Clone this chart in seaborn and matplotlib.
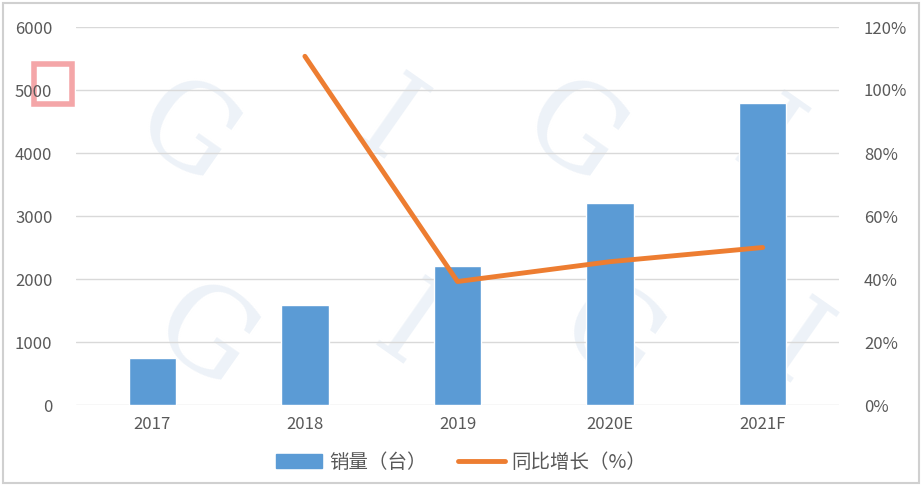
import matplotlib.pyplot as plt
import matplotlib.patches as mpatches
from matplotlib.lines import Line2D
import seaborn as sns
import numpy as np
import pandas as pd

# data
years = ['2017', '2018', '2019', '2020E', '2021F']
sales = [750, 1580, 2200, 3200, 4800]          # 销量（台）
growth_years = ['2018', '2019', '2020E', '2021F']
growth = [110.7, 39.2, 45.5, 50.0]             # 同比增长（%）
left_ticks = [0, 1000, 2000, 3000, 4000, 5000, 6000]
right_ticks = [0, 20, 40, 60, 80, 100, 120]

bar_color = '#5B9BD5'
line_color = '#ED7D31'
txt_color = '#595959'
grid_color = '#D9D9D9'

sns.set_style('white')
plt.rcParams['font.family'] = ['Noto Sans CJK SC', 'DejaVu Sans']

fig = plt.figure(figsize=(9.22, 4.86), dpi=100)
fig.patch.set_facecolor('white')

# faint watermark behind everything
wm_pos = [(0.20, 0.72), (0.42, 0.74), (0.62, 0.72), (0.83, 0.70),
          (0.22, 0.30), (0.44, 0.32), (0.66, 0.30), (0.86, 0.28)]
for i, (wx, wy) in enumerate(wm_pos):
    fig.text(wx, wy, 'GI'[i % 2], fontsize=85, family='DejaVu Serif',
             color='#EDF2F8', rotation=-35, ha='center', va='center', zorder=0)

# small logo top-left
fig.patches.append(mpatches.Rectangle((34 / 922, 1 - 104 / 486), 38 / 922, 40 / 486,
                                      transform=fig.transFigure, fill=False,
                                      edgecolor='#F4A6A8', linewidth=4, zorder=0.5))

ax = fig.add_axes([76 / 922, 1 - 405 / 486, (839 - 76) / 922, (405 - 27) / 486])
ax.set_zorder(1)
ax.patch.set_alpha(0)

df = pd.DataFrame({'year': years, 'sales': sales})
sns.barplot(data=df, x='year', y='sales', color=bar_color, width=0.31,
            saturation=1, ax=ax, zorder=3)
ax.set_ylim(0, 6000)
ax.set_yticks(left_ticks)
ax.set_xlim(-0.5, len(years) - 0.5)
ax.yaxis.grid(True, color=grid_color, linewidth=1)
ax.set_axisbelow(True)
ax.set_xlabel('')
ax.set_ylabel('')
for s in ax.spines.values():
    s.set_visible(False)
ax.tick_params(axis='both', length=0, labelsize=12, colors=txt_color, pad=17)
ax.tick_params(axis='x', pad=8)

ax2 = ax.twinx()
ax2.patch.set_alpha(0)
gdf = pd.DataFrame({'pos': [years.index(y) for y in growth_years], 'growth': growth})
sns.lineplot(data=gdf, x='pos', y='growth', color=line_color, linewidth=3.5,
             ax=ax2, zorder=4)
ax2.set_ylim(0, 120)
ax2.set_yticks(right_ticks)
ax2.set_yticklabels([f'{t}%' for t in right_ticks])
ax2.set_xlim(-0.5, len(years) - 0.5)
ax2.set_xlabel('')
ax2.set_ylabel('')
for s in ax2.spines.values():
    s.set_visible(False)
ax2.tick_params(axis='y', length=0, labelsize=12, colors=txt_color, pad=18)

handles = [mpatches.Patch(color=bar_color),
           Line2D([0], [0], color=line_color, linewidth=3.5)]
fig.legend(handles, ['销量（台）', '同比增长（%）'], loc='center',
           bbox_to_anchor=(0.5, 1 - 462 / 486), ncol=2, frameon=False,
           fontsize=14, labelcolor=txt_color, handlelength=2.4,
           columnspacing=1.6, handletextpad=0.35)

# outer border
fig.patches.append(mpatches.Rectangle((3 / 922, 3 / 486), 916 / 922, 480 / 486,
                                      transform=fig.transFigure, fill=False,
                                      edgecolor='#D0D0D0', linewidth=1.5))

fig.savefig('out.png', dpi=100)
